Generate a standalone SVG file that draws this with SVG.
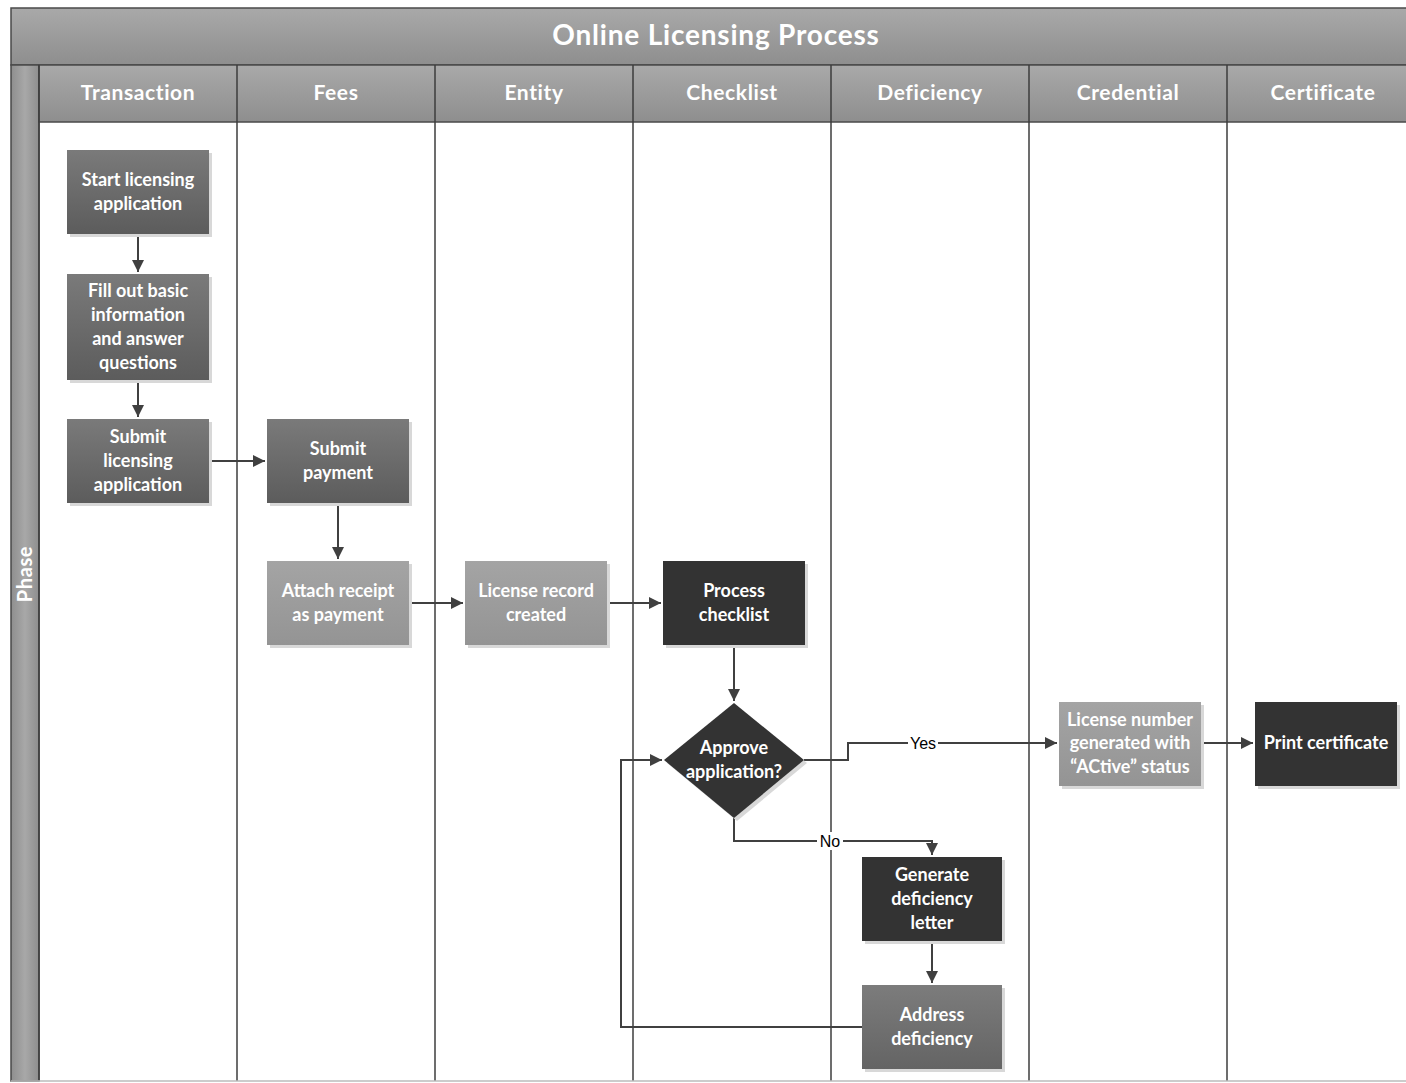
<svg xmlns="http://www.w3.org/2000/svg" width="1406" height="1083" viewBox="0 0 1406 1083">
<style>
.hdr{fill:url(#gh);stroke:#4a4a4a;stroke-width:1.5}
.lane{fill:none;stroke:#3c3c3c;stroke-width:1.5}
.ht{font-family:Lato,"Noto Sans",sans-serif;font-weight:bold;fill:#fff;font-size:21px;letter-spacing:0.6px;text-anchor:middle}
.nt{font-family:Lato,"Noto Sans",sans-serif;font-weight:bold;fill:#fff;font-size:18px;text-anchor:middle}
.dk{fill:url(#gdk)}
.md{fill:url(#gmd)}
.lt{fill:url(#glt)}
.bk{fill:#333}
.sh{fill:#d8d8d8}
.cn{fill:none;stroke:#404040;stroke-width:2}
.lb{font-family:"Liberation Sans",Arial,sans-serif;font-size:16px;fill:#000;text-anchor:middle}
</style>
<defs>
<linearGradient id="gh" x1="0" y1="0" x2="0" y2="1"><stop offset="0" stop-color="#a9a9a9"/><stop offset="1" stop-color="#8e8e8e"/></linearGradient>
<linearGradient id="gp" x1="0" y1="0" x2="1" y2="0"><stop offset="0" stop-color="#8e8e8e"/><stop offset="0.5" stop-color="#a8a8a8"/><stop offset="1" stop-color="#8e8e8e"/></linearGradient>
<linearGradient id="gdk" x1="0" y1="0" x2="0" y2="1"><stop offset="0" stop-color="#7a7a7a"/><stop offset="1" stop-color="#5c5c5c"/></linearGradient>
<linearGradient id="gmd" x1="0" y1="0" x2="0" y2="1"><stop offset="0" stop-color="#7c7c7c"/><stop offset="1" stop-color="#646464"/></linearGradient>
<linearGradient id="glt" x1="0" y1="0" x2="0" y2="1"><stop offset="0" stop-color="#a4a4a4"/><stop offset="1" stop-color="#949494"/></linearGradient>
<marker id="ar" viewBox="0 0 10 10" refX="10" refY="5" markerWidth="6" markerHeight="6" orient="auto" markerUnits="strokeWidth"><path d="M0,0 L10,5 L0,10 z" fill="#404040"/></marker>
</defs>
<rect width="1406" height="1083" fill="#fff"/>
<g id="pool">
<rect class="hdr" x="11" y="8" width="1420" height="57"/>
<text x="716" y="45" class="ht" style="font-size:28px;letter-spacing:0.8px">Online Licensing Process</text>
<rect x="11" y="65" width="28" height="1016" fill="url(#gp)" stroke="#4a4a4a" stroke-width="1.5"/>
<text class="ht" style="font-size:20px" transform="translate(32,574) rotate(-90)">Phase</text>
<rect class="hdr" x="39" y="65" width="1392" height="57"/>
<g class="lane">
<line x1="39" y1="65" x2="39" y2="1081"/>
<line x1="237" y1="65" x2="237" y2="1081"/>
<line x1="435" y1="65" x2="435" y2="1081"/>
<line x1="633" y1="65" x2="633" y2="1081"/>
<line x1="831" y1="65" x2="831" y2="1081"/>
<line x1="1029" y1="65" x2="1029" y2="1081"/>
<line x1="1227" y1="65" x2="1227" y2="1081"/>
<line x1="11" y1="1081" x2="1406" y2="1081" stroke="#bbb"/>
</g>
<text x="138" y="100" class="ht">Transaction</text>
<text x="336" y="100" class="ht">Fees</text>
<text x="534" y="100" class="ht">Entity</text>
<text x="732" y="100" class="ht">Checklist</text>
<text x="930" y="100" class="ht">Deficiency</text>
<text x="1128" y="100" class="ht">Credential</text>
<text x="1323" y="100" class="ht">Certificate</text>
</g>
<g id="connectors">
<path class="cn" d="M138,234 V272" marker-end="url(#ar)"/>
<path class="cn" d="M138,380 V417" marker-end="url(#ar)"/>
<path class="cn" d="M209,461 H265" marker-end="url(#ar)"/>
<path class="cn" d="M338,503 V559" marker-end="url(#ar)"/>
<path class="cn" d="M409,603 H463" marker-end="url(#ar)"/>
<path class="cn" d="M607,603 H661" marker-end="url(#ar)"/>
<path class="cn" d="M734,645 V701" marker-end="url(#ar)"/>
<path class="cn" d="M804,760 H848 V743 H1057" marker-end="url(#ar)"/>
<path class="cn" d="M1201,743 H1253" marker-end="url(#ar)"/>
<path class="cn" d="M734,818 V841 H932 V855" marker-end="url(#ar)"/>
<path class="cn" d="M932,941 V983" marker-end="url(#ar)"/>
<path class="cn" d="M862,1027 H621 V760 H662" marker-end="url(#ar)"/>
<rect x="908" y="734" width="30" height="18" fill="#fff"/>
<text x="923" y="749" class="lb">Yes</text>
<rect x="817" y="832" width="26" height="18" fill="#fff"/>
<text x="830" y="847" class="lb">No</text>
</g>
<g id="n1"><rect class="sh" x="70" y="153" width="142" height="84"/><rect class="dk" x="67" y="150" width="142" height="84"/><text class="nt" x="138" y="186">Start licensing</text><text class="nt" x="138" y="210">application</text></g>
<g id="n2"><rect class="sh" x="70" y="277" width="142" height="106"/><rect class="dk" x="67" y="274" width="142" height="106"/><text class="nt" x="138" y="297">Fill out basic</text><text class="nt" x="138" y="321">information</text><text class="nt" x="138" y="345">and answer</text><text class="nt" x="138" y="369">questions</text></g>
<g id="n3"><rect class="sh" x="70" y="422" width="142" height="84"/><rect class="dk" x="67" y="419" width="142" height="84"/><text class="nt" x="138" y="443">Submit</text><text class="nt" x="138" y="467">licensing</text><text class="nt" x="138" y="491">application</text></g>
<g id="n4"><rect class="sh" x="270" y="422" width="142" height="84"/><rect class="dk" x="267" y="419" width="142" height="84"/><text class="nt" x="338" y="455">Submit</text><text class="nt" x="338" y="479">payment</text></g>
<g id="n5"><rect class="sh" x="270" y="564" width="142" height="84"/><rect class="lt" x="267" y="561" width="142" height="84"/><text class="nt" x="338" y="597">Attach receipt</text><text class="nt" x="338" y="621">as payment</text></g>
<g id="n6"><rect class="sh" x="468" y="564" width="142" height="84"/><rect class="lt" x="465" y="561" width="142" height="84"/><text class="nt" x="536" y="597">License record</text><text class="nt" x="536" y="621">created</text></g>
<g id="n7"><rect class="sh" x="666" y="564" width="142" height="84"/><rect class="bk" x="663" y="561" width="142" height="84"/><text class="nt" x="734" y="597">Process</text><text class="nt" x="734" y="621">checklist</text></g>
<g id="n8"><path class="sh" d="M737,706 L807,763 L737,821 L667,763 z"/><path class="bk" d="M734,703 L804,760 L734,818 L664,760 z"/><text class="nt" x="734" y="754">Approve</text><text class="nt" x="734" y="778">application?</text></g>
<g id="n9"><rect class="sh" x="1062" y="705" width="142" height="84"/><rect class="lt" x="1059" y="702" width="142" height="84"/><text class="nt" x="1130" y="726">License number</text><text class="nt" x="1130" y="749">generated with</text><text class="nt" x="1130" y="773">“ACtive” status</text></g>
<g id="n10"><rect class="sh" x="1258" y="705" width="142" height="84"/><rect class="bk" x="1255" y="702" width="142" height="84"/><text class="nt" x="1326" y="749">Print certificate</text></g>
<g id="n11"><rect class="sh" x="865" y="860" width="140" height="84"/><rect class="bk" x="862" y="857" width="140" height="84"/><text class="nt" x="932" y="881">Generate</text><text class="nt" x="932" y="905">deficiency</text><text class="nt" x="932" y="929">letter</text></g>
<g id="n12"><rect class="sh" x="865" y="988" width="140" height="84"/><rect class="md" x="862" y="985" width="140" height="84"/><text class="nt" x="932" y="1021">Address</text><text class="nt" x="932" y="1045">deficiency</text></g>
</svg>
